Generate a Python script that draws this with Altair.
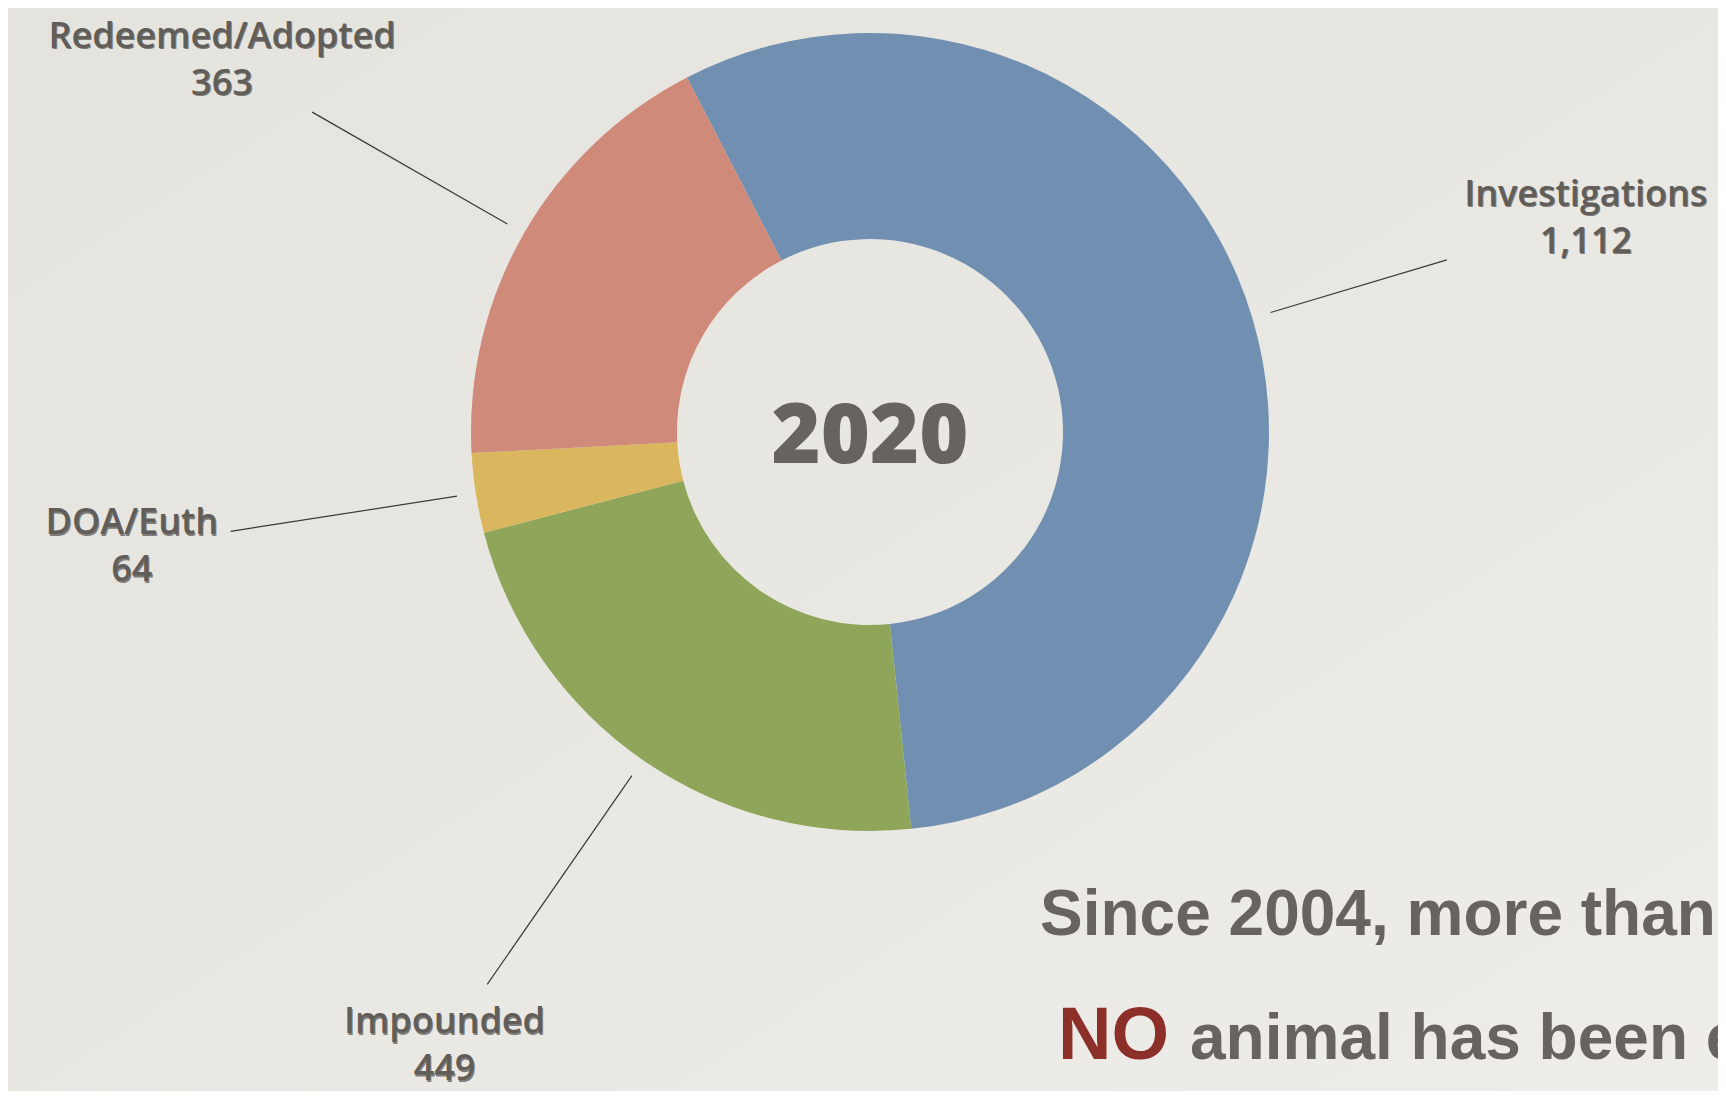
import math
import altair as alt
import pandas as pd

# ---- data ----
categories = ["Investigations", "Impounded", "DOA/Euth", "Redeemed/Adopted"]
counts = [1112, 449, 64, 363]
year_label = ["2020"]
headline = ["Since 2004, more than"]
no_word = ["NO"]
tagline = ["animal has been euthanized"]

# ---- styles / layout ----
colors = ["#7190b1", "#8fa559", "#dab75e", "#d08a79"]
W, H = 1710, 1083
CX, CY = 862, 424
R_OUT, R_IN = 399, 193
START = math.radians(-27.3)
LABEL_R = 747
LINE_H = 47
LEADER_R1 = 418
leader_r2 = {"Investigations": 602, "Impounded": 672, "DOA/Euth": 647, "Redeemed/Adopted": 643}
TXT = "#615e5a"
BG = "#e9e7e2"

df = pd.DataFrame({"category": categories, "count": counts, "order": list(range(len(categories)))})
df["r2"] = df["category"].map(leader_r2)

paper = alt.Chart(pd.DataFrame({"p": [0]})).mark_rect(
    color=alt.Gradient(
        gradient="linear", x1=0, y1=0, x2=1, y2=1,
        stops=[alt.GradientStop(color="#e5e3de", offset=0),
               alt.GradientStop(color="#e9e7e2", offset=0.5),
               alt.GradientStop(color="#efede9", offset=1)],
    )
).encode(x=alt.value(0), x2=alt.value(W), y=alt.value(0), y2=alt.value(H))

theta_scale = alt.Scale(range=[START, START + 2 * math.pi])
base = alt.Chart(df).encode(
    theta=alt.Theta("count:Q", stack=True, scale=theta_scale),
    order=alt.Order("order:Q"),
    x=alt.value(CX),
    y=alt.value(CY),
)

arcs = base.mark_arc(outerRadius=R_OUT, innerRadius=R_IN).encode(
    color=alt.Color("category:N", scale=alt.Scale(domain=categories, range=colors), legend=None)
)

lbl_expr = "datum.category + '\\n' + format(datum.count, ',')"
shadow = base.transform_calculate(lbl=lbl_expr).mark_text(
    radius=LABEL_R, font="Open Sans", fontWeight=600, fontSize=36, lineHeight=LINE_H,
    lineBreak="\n", align="center", baseline="middle", color="#2a2826", opacity=0.55,
    dx=1, dy=-LINE_H / 2 + 1.5,
).encode(text="lbl:N")
labels = base.transform_calculate(lbl=lbl_expr).mark_text(
    radius=LABEL_R, font="Open Sans", fontWeight=600, fontSize=36, lineHeight=LINE_H,
    lineBreak="\n", align="center", baseline="middle", color=TXT, dy=-LINE_H / 2,
).encode(text="lbl:N")

leaders = alt.Chart(df).transform_joinaggregate(
    total="sum(count)"
).transform_window(
    cum="sum(count)", sort=[alt.SortField("order")], frame=[None, 0]
).transform_calculate(
    ang=f"{START} + 2*PI*(datum.cum - datum.count/2)/datum.total"
).transform_calculate(
    x1=f"{CX} + {LEADER_R1}*sin(datum.ang)",
    y1=f"{CY} - {LEADER_R1}*cos(datum.ang)",
    x2=f"{CX} + datum.r2*sin(datum.ang)",
    y2=f"{CY} - datum.r2*cos(datum.ang)",
).mark_rule(color="#3a3936", strokeWidth=1.2).encode(
    x=alt.X("x1:Q", scale=None, axis=None),
    y=alt.Y("y1:Q", scale=None, axis=None),
    x2="x2:Q",
    y2="y2:Q",
)

year = alt.Chart(pd.DataFrame({"t": year_label})).mark_text(
    font="Open Sans", fontWeight=800, fontSize=84, align="center", baseline="alphabetic", color="#67635e"
).encode(text="t:N", x=alt.value(CX), y=alt.value(455))

head = alt.Chart(pd.DataFrame({"t": headline})).mark_text(
    font="Liberation Sans", fontWeight="bold", fontSize=64, align="left", baseline="alphabetic", color="#67635e"
).encode(text="t:N", x=alt.value(1032), y=alt.value(927))

no = alt.Chart(pd.DataFrame({"t": no_word})).mark_text(
    font="Liberation Sans", fontWeight="bold", fontSize=74, align="left", baseline="alphabetic", color="#8c2f28"
).encode(text="t:N", x=alt.value(1050), y=alt.value(1051))

tag = alt.Chart(pd.DataFrame({"t": tagline})).mark_text(
    font="Liberation Sans", fontWeight="bold", fontSize=64, align="left", baseline="alphabetic", color="#67635e"
).encode(text="t:N", x=alt.value(1182), y=alt.value(1051))

chart = alt.layer(paper, arcs, leaders, shadow, labels, year, head, no, tag).properties(
    width=W, height=H, autosize=alt.AutoSizeParams(type="none"), padding=0,
    background=BG,
).configure_view(stroke=None)

chart.save("out.html", embed_options={"renderer": "svg", "actions": False})
